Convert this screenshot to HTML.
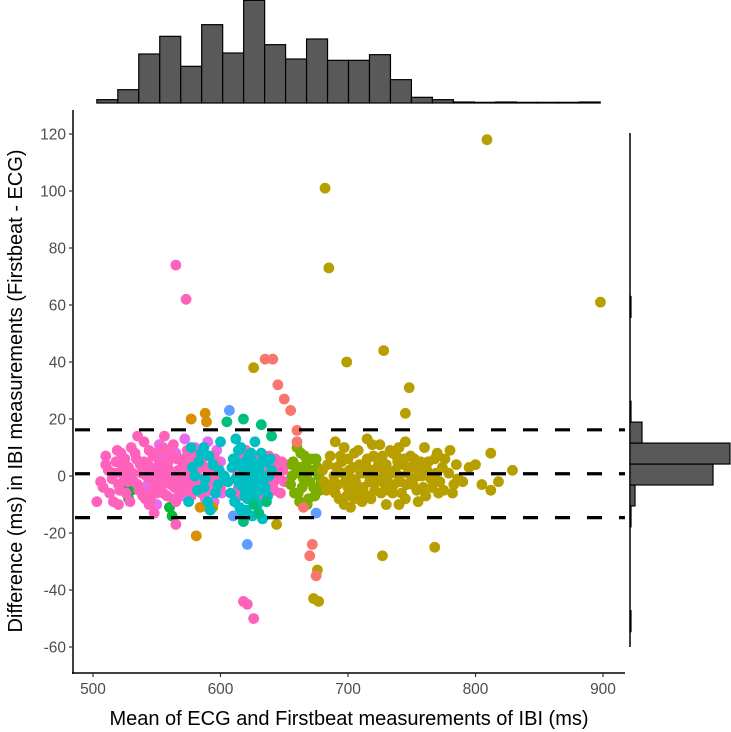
<!DOCTYPE html>
<html><head><meta charset="utf-8"><style>
body{margin:0;background:#fff}
svg{display:block;font-family:"Liberation Sans",Arial,sans-serif}
</style></head><body>
<svg id="c" width="731" height="732" viewBox="0 0 731 732"></svg>
<script>
const xTicks=[500,600,700,800,900];
const yTicks=[120,100,80,60,40,20,0,-20,-40,-60];
const refLines=[16.2,0.8,-14.6];
const topHistStart=503, topHistStep=16.45;
const topHistCounts=[10,40,147,200,110,235,150,308,175,132,192,128,128,145,70,17,10,3,2,3,2,2,2,3];
const rightHistStart=-61.95, rightHistStep=7.35;
const rightHistCounts=[0,1,0,0,0,0,1,5,83,100,12,1,0,0,0,0,1,0,0,0,0,0,0,0,0];
const groupColors=["#E76BF3","#00BA38","#D89000","#FF62BC","#00BFC4","#00BF7D","#7CAE00","#B79F00","#F8766D","#619CFF"];
const magentaPts=[540,-6,545,3,550,-10,555,6,560,-2,565,8,570,-7,575,1,580,10,585,-4,590,12,595,-9,600,5,603,-1,588,-8,572,13,583,4,597,9,560,-11,552,11,543,-3,558,4,568,-4,578,7,593,0,601,-6,548,8,563,-8];
const greenPts=[528,-8,530,-5,562,-14,560,-11,524,-3];
const orangePts=[577,20,588,22,589,19,581,-21,590,-11,594,-11,584,-11];
const pinkPts=[508,-4,512,2,515,-1,518,5,520,-3,522,8,524,0,526,-6,528,3,530,10,532,-2,534,6,536,-5,538,1,540,12,541,-8,543,4,545,-1,547,7,549,-4,551,2,553,9,555,-6,557,0,559,5,561,-3,563,11,565,-9,567,2,569,-1,571,6,573,-4,575,3,577,-7,579,8,581,0,583,-2,585,5,590,2,592,-5,595,7,598,-3,600,1,612,3,614,-4,616,6,618,-1,620,9,622,-6,624,2,626,-2,628,5,630,-8,632,0,634,4,636,-3,638,7,640,1,642,-5,644,3,646,-1,648,5,650,-2,565,74,573,62,618,-44,621,-45,626,-50,565,-17,548,-13,503,-9,516,-9,510,7,535,14,520,-10,556,14,544,-10,
506,-2,510,4,513,-6,517,1,519,9,521,-5,523,3,525,6,527,-2,529,-9,531,1,533,8,535,-3,537,4,539,-7,542,0,544,9,546,-5,548,2,550,-1,552,5,554,-3,556,3,558,-7,560,8,562,1,564,-4,566,6,568,-6,570,3,572,0,574,9,576,-2,578,5,580,-5,582,2,584,-1,586,7,588,3,591,-3,594,1,597,4,613,0,615,-7,617,8,619,-3,621,3,623,-8,625,6,627,0,629,-4,631,7,633,-6,635,2,637,-1,639,4,641,-3,643,6,645,0,647,-6,649,2,651,4,530,-1,540,5,550,-6,560,2,570,-3,580,3,590,-1,600,-4,545,-8,555,10,565,-1,575,6,585,-6,595,-1];
const cyanPts=[578,3,582,-5,585,8,588,-1,590,-9,594,4,598,-3,600,12,603,0,608,-6,610,6,612,-1,614,9,615,-11,617,3,618,-4,620,1,621,-8,622,7,624,-2,625,5,626,-6,627,12,628,0,629,-10,630,3,631,-3,632,8,634,-1,636,5,637,-7,640,2,575,-9,577,10,612,13,625,-14,633,-15,616,-3,623,4,619,-7,
580,0,583,5,587,-4,591,7,596,-6,599,2,606,-2,609,3,611,-9,613,5,615,-3,616,10,619,-1,620,5,622,-4,623,0,624,8,626,2,627,-8,628,4,630,-5,631,1,633,5,635,-4,638,0,639,6,620,-12,616,-13,592,-12,587,10];
const tealPts=[618,-16,630,-13,626,-10,605,19,618,20,632,18,640,14,636,-9];
const ygreenPts=[655,-3,657,5,659,1,661,-6,663,8,665,-1,667,4,669,-8,671,2,673,-4,675,6,677,0,679,-2,660,10,668,-10,656,0,656,4,658,-6,662,3,664,-4,666,7,668,1,670,-2,672,6,674,-7,676,3,678,-5,662,-9];
const olivePts=[680,2,683,-5,686,7,689,0,692,-3,695,5,697,10,699,-7,701,2,703,-1,705,8,707,-4,709,4,711,-9,713,1,715,6,717,-2,719,11,721,-5,723,3,725,-1,727,7,729,-3,731,0,733,9,735,-6,737,2,739,5,741,-2,743,4,745,-8,747,1,749,7,751,-3,753,3,755,0,757,5,759,-4,762,2,765,-1,768,6,771,-6,774,3,690,12,702,-11,715,13,730,-10,745,12,760,10,775,-5,785,4,790,-2,800,4,805,-3,812,8,818,-2,829,2,812,-5,690,-6,694,7,710,-6,720,0,735,8,809,118,682,101,685,73,898,61,699,40,728,44,748,31,745,22,727,-28,768,-25,676,-33,673,-43,677,-44,644,-17,626,38,700,-4,718,-8,740,-10,755,-9,770,8,783,-3,
681,-2,684,4,687,-3,691,3,693,-8,696,1,698,-2,700,6,702,-5,704,3,706,-2,708,9,710,1,712,-4,714,4,716,-7,718,2,720,7,722,-2,724,5,726,-6,728,2,730,4,732,-5,734,1,736,-3,738,7,740,0,742,-6,744,6,746,-3,748,3,750,-1,752,6,754,-5,756,2,758,0,761,-7,763,5,766,-4,769,1,772,-2,776,6,779,1,782,-6,786,-1,795,3,780,9,697,-10,725,11,705,-8,740,10];
const salmonPts=[635,41,641,41,645,32,650,27,655,23,660,16,665,-11,672,-24,670,-28,675,-35,660,12];
const bluePts=[607,23,621,-24,610,-14,675,-13];
const groups=[magentaPts,greenPts,orangePts,pinkPts,cyanPts,tealPts,ygreenPts,olivePts,salmonPts,bluePts];

const NS="http://www.w3.org/2000/svg";
const svg=document.getElementById('c');
const X=v=>93+(v-500)*1.275;
const Y=v=>476-v*2.85;
function mk(t,a,p){const e=document.createElementNS(NS,t);for(const k in a)e.setAttribute(k,a[k]);(p||svg).appendChild(e);return e;}

groups.forEach((g,gi)=>{
  for(let i=0;i<g.length;i+=2){
    const c=mk('circle',{cx:X(g[i]),cy:Y(g[i+1]),r:5.4,fill:groupColors[gi]});
    
    
  }
});
refLines.forEach(v=>{
  const l=mk('line',{x1:75,x2:625,y1:Y(v),y2:Y(v),stroke:'#000','stroke-width':3.2,'stroke-dasharray':'15,17'});
  
  
});
let a=mk('line',{x1:73,x2:73,y1:110,y2:674,stroke:'#000','stroke-width':1.5});

a=mk('line',{x1:72,x2:625,y1:673,y2:673,stroke:'#000','stroke-width':1.5});

yTicks.forEach(v=>{
  mk('line',{x1:69,x2:73,y1:Y(v),y2:Y(v),stroke:'#333','stroke-width':1.2});
  const t=mk('text',{x:66,y:Y(v)+5.5,'text-anchor':'end','font-size':15.5,fill:'#4d4d4d'});
  t.textContent=v;
  
  
});
xTicks.forEach(v=>{
  mk('line',{x1:X(v),x2:X(v),y1:673,y2:677,stroke:'#333','stroke-width':1.2});
  const t=mk('text',{x:X(v),y:694,'text-anchor':'middle','font-size':15.5,fill:'#4d4d4d'});
  t.textContent=v;
  
  
});
let t=mk('text',{x:349,y:725,'text-anchor':'middle','font-size':20,fill:'#000'});
t.textContent='Mean of ECG and Firstbeat measurements of IBI (ms)';

t=mk('text',{x:0,y:0,'text-anchor':'middle','font-size':20,fill:'#000',transform:'translate(22,391) rotate(-90)'});
t.textContent='Difference (ms) in IBI measurements (Firstbeat - ECG)';

topHistCounts.forEach((c,i)=>{
  const x0=X(topHistStart+i*topHistStep),x1=X(topHistStart+(i+1)*topHistStep);
  const h=c/3;
  const r=mk('rect',{x:x0,y:103-h,width:x1-x0,height:h,fill:'#595959',stroke:'#000','stroke-width':1.2});
  
  
});
a=mk('line',{x1:630,x2:630,y1:133,y2:647,stroke:'#000','stroke-width':1.5});

rightHistCounts.forEach((c,i)=>{
  if(!c)return;
  const y0=Y(rightHistStart+(i+1)*rightHistStep),y1=Y(rightHistStart+i*rightHistStep);
  const r=mk('rect',{x:630,y:y0,width:c,height:y1-y0,fill:'#595959',stroke:'#000','stroke-width':1.2});
  
  
});
</script>
</body></html>
